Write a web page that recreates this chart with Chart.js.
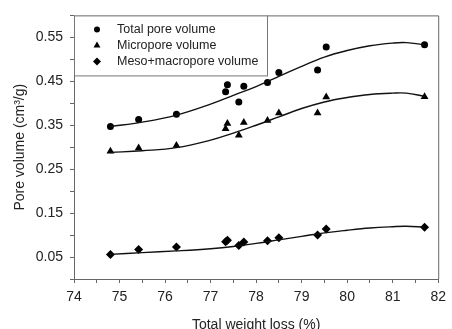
<!DOCTYPE html>
<html>
<head>
<meta charset="utf-8">
<script src="https://cdn.jsdelivr.net/npm/chart.js@4/dist/chart.umd.min.js"></script>
<style>
  body { margin: 0; background: #fff; }
  #wrap { width: 452px; height: 329px; }
</style>
</head>
<body>
<div id="wrap"><canvas id="poreChart" width="452" height="329"></canvas></div>
<script>
const weightLoss = [74.8, 75.42, 76.25, 77.33, 77.37, 77.62, 77.73, 78.25, 78.5, 79.35, 79.54, 81.7];
const totalPore = [0.347, 0.363, 0.375, 0.426, 0.442, 0.403, 0.439, 0.447, 0.470, 0.476, 0.528, 0.533];
const micropore = [0.291, 0.298, 0.304, 0.342, 0.354, 0.327, 0.356, 0.361, 0.378, 0.378, 0.414, 0.415];
const mesoMacro = [0.056, 0.067, 0.073, 0.085, 0.088, 0.076, 0.084, 0.087, 0.094, 0.100, 0.114, 0.118];

// fitted curves
const fitX = [74.8, 75.5, 76.25, 77, 77.5, 78, 78.5, 79, 79.5, 80, 80.5, 81, 81.3, 81.7];
const totalFit = [0.347, 0.357, 0.373, 0.398, 0.418, 0.438, 0.461, 0.484, 0.505, 0.520, 0.531, 0.537, 0.538, 0.533];
const microFit = [0.288, 0.292, 0.299, 0.316, 0.332, 0.350, 0.369, 0.388, 0.403, 0.413, 0.420, 0.423, 0.423, 0.416];
const mesoFit = [0.056, 0.060, 0.064, 0.069, 0.074, 0.081, 0.089, 0.097, 0.105, 0.111, 0.116, 0.119, 0.120, 0.118];

const seriesNames = ["Total pore volume", "Micropore volume", "Meso+macropore volume"];
const markerStyles = ["circle", "triangle", "rectRot"];
const markerSizes = [3.5, 4.5, 4.5];

const xTitle = "Total weight loss (%)";
const yTitle = "Pore volume (cm³/g)";

Chart.defaults.font.family = "'Liberation Sans', Arial, sans-serif";
Chart.defaults.color = "#222";

function toPoints(xs, ys) {
  return xs.map((x, i) => ({ x: x, y: ys[i] }));
}

const pointSets = [totalPore, micropore, mesoMacro].map((values, i) => ({
  label: seriesNames[i],
  data: toPoints(weightLoss, values),
  showLine: false,
  pointStyle: markerStyles[i],
  pointRadius: markerSizes[i],
  pointBackgroundColor: "#000",
  pointBorderColor: "#000",
  pointBorderWidth: 0
}));

const fitSets = [totalFit, microFit, mesoFit].map((values) => ({
  label: "",
  data: toPoints(fitX, values),
  showLine: true,
  pointRadius: 0,
  borderColor: "#111",
  borderWidth: 1.4,
  tension: 0.4
}));

const frameAndLegend = {
  id: "frameAndLegend",
  afterDraw(chart) {
    const { ctx, chartArea } = chart;
    ctx.save();
    ctx.strokeStyle = "#666";
    ctx.lineWidth = 1;
    ctx.beginPath();
    ctx.moveTo(chartArea.left, chartArea.top + 0.5);
    ctx.lineTo(chartArea.right + 0.5, chartArea.top + 0.5);
    ctx.lineTo(chartArea.right + 0.5, chartArea.bottom);
    ctx.stroke();

    const boxW = 193;
    const boxH = 60;
    ctx.fillStyle = "#fff";
    ctx.fillRect(chartArea.left, chartArea.top, boxW, boxH);
    ctx.strokeStyle = "#777";
    ctx.strokeRect(chartArea.left + 0.5, chartArea.top + 0.5, boxW, boxH);

    ctx.font = "12.5px 'Liberation Sans', Arial, sans-serif";
    ctx.textBaseline = "middle";
    seriesNames.forEach((name, i) => {
      const rowY = chartArea.top + 14 + i * 16;
      ctx.fillStyle = "#000";
      Chart.helpers.drawPoint(ctx, {
        pointStyle: markerStyles[i],
        radius: markerSizes[i] - 0.5,
        rotation: 0,
        borderWidth: 0
      }, chartArea.left + 23, rowY);
      ctx.fillStyle = "#222";
      ctx.fillText(name, chartArea.left + 43, rowY);
    });
    ctx.restore();
  }
};

new Chart(document.getElementById("poreChart"), {
  type: "scatter",
  data: {
    datasets: [...fitSets, ...pointSets]
  },
  options: {
    responsive: false,
    animation: false,
    layout: {
      padding: { top: 14, right: 8, left: 0, bottom: 0 }
    },
    plugins: {
      legend: { display: false },
      tooltip: { enabled: false }
    },
    scales: {
      x: {
        type: "linear",
        min: 74,
        max: 82,
        afterFit: (scale) => { scale.height = 50; },
        ticks: {
          stepSize: 0.5,
          autoSkip: false,
          maxRotation: 0,
          padding: 6,
          font: { size: 14 },
          callback: (value) => Number.isInteger(value) ? String(value) : ""
        },
        grid: { drawOnChartArea: false, tickLength: 4, color: "#666" },
        border: { color: "#666", width: 1 },
        title: {
          display: true,
          text: xTitle,
          font: { size: 14 },
          padding: { top: 0, bottom: -5 }
        }
      },
      y: {
        min: 0,
        max: 0.6,
        afterFit: (scale) => { scale.width = 74; },
        ticks: {
          stepSize: 0.05,
          autoSkip: false,
          padding: 7,
          font: { size: 14 },
          callback: (value) => {
            const k = Math.round(value * 100);
            return k % 10 === 5 ? (k / 100).toFixed(2) : "";
          }
        },
        grid: { drawOnChartArea: false, tickLength: 4, color: "#666" },
        border: { color: "#666", width: 1 },
        title: {
          display: true,
          text: yTitle,
          font: { size: 14 },
          padding: { top: 12, bottom: 0 }
        }
      }
    }
  },
  plugins: [frameAndLegend]
});
</script>
</body>
</html>
